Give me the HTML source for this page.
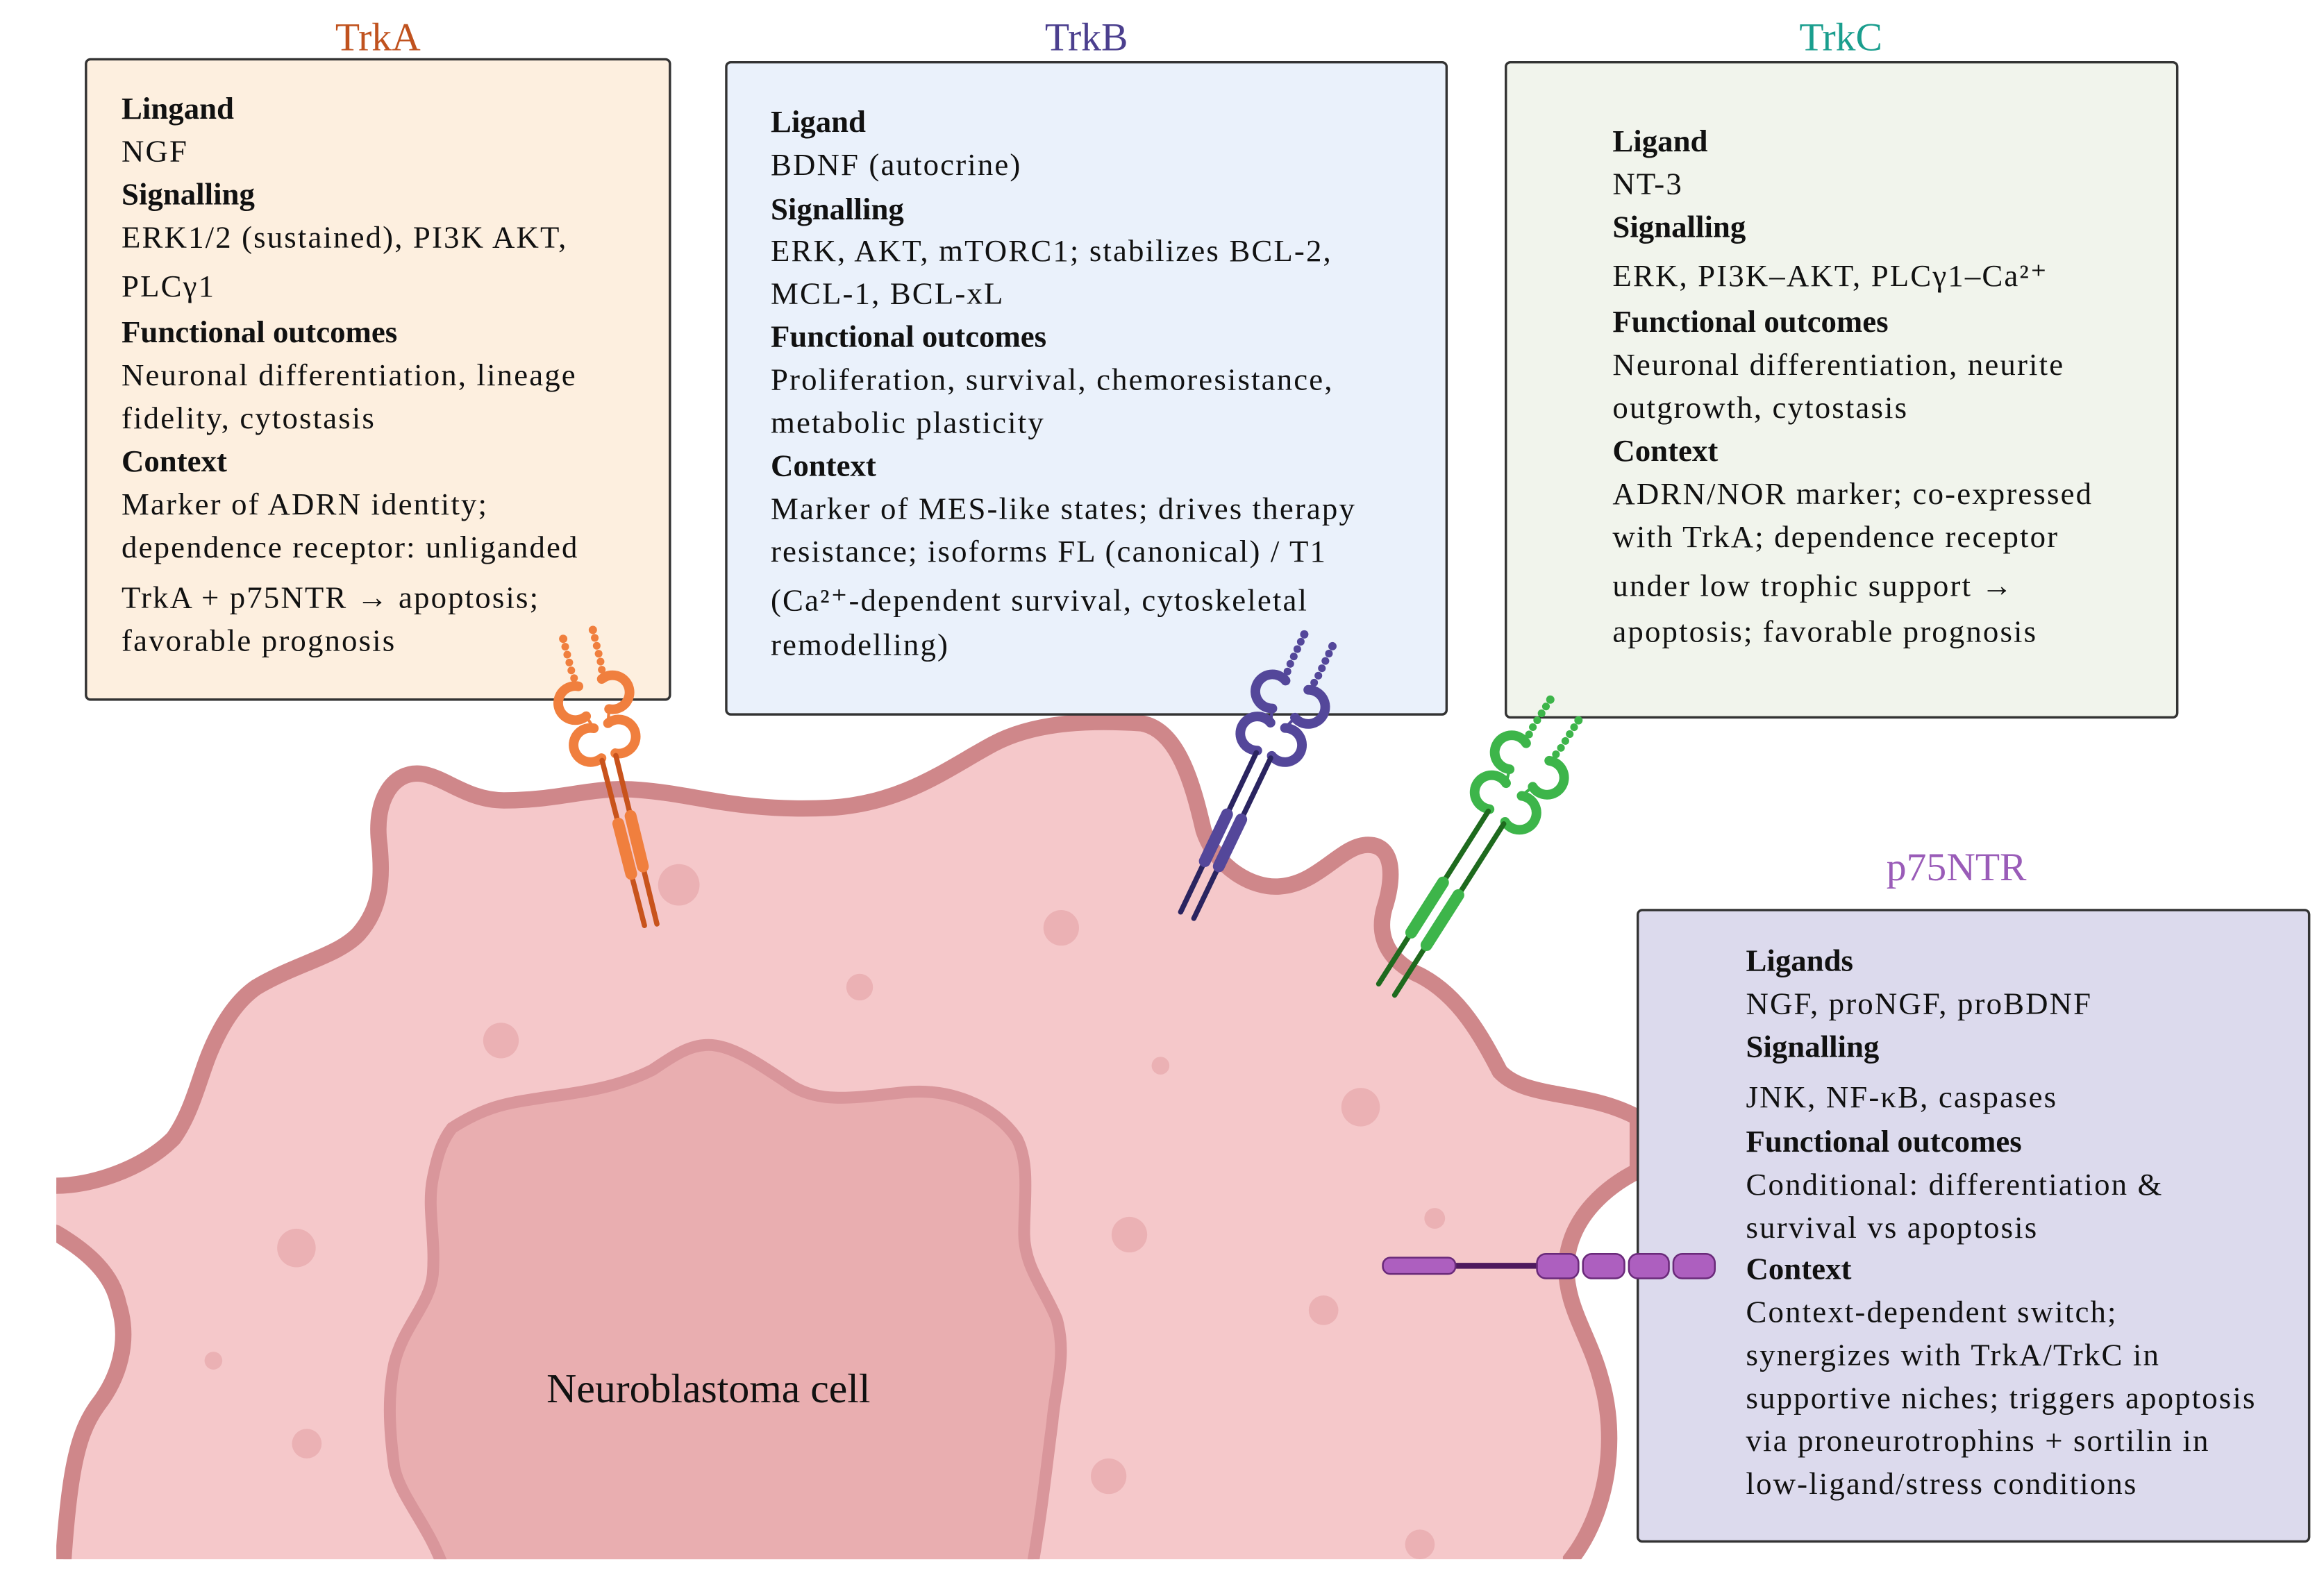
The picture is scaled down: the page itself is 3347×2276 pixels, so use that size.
<!DOCTYPE html>
<html><head><meta charset="utf-8">
<style>
html,body{margin:0;padding:0;background:#fff;}
svg{display:block;}
.r{letter-spacing:1px;}
</style></head>
<body>
<svg width="3347" height="2276" viewBox="0 0 1568 1066" preserveAspectRatio="none" xmlns="http://www.w3.org/2000/svg" font-family="'Liberation Serif', 'Times New Roman', serif">
<defs>
  <clipPath id="cc"><rect x="38" y="0" width="1530" height="1052"/></clipPath>
  <g id="top">
    <circle cx="0" cy="0" r="2.8" fill="currentColor"/>
    <circle cx="0" cy="5.5" r="2.6" fill="currentColor"/>
    <circle cx="0" cy="11" r="2.6" fill="currentColor"/>
    <circle cx="0" cy="16.5" r="2.6" fill="currentColor"/>
    <circle cx="0" cy="22" r="2.6" fill="currentColor"/>
    <circle cx="0.5" cy="27.5" r="2.6" fill="currentColor"/>
    <path d="M2,33.6 A11.5,11.5 0 1 0 2,54.4" fill="none" stroke="currentColor" stroke-width="6.5" stroke-linecap="round"/>
    <line x1="2" y1="54.4" x2="5" y2="63.6" stroke="currentColor" stroke-width="2"/>
    <path d="M5,63.6 A11.5,11.5 0 1 0 5,84.4" fill="none" stroke="currentColor" stroke-width="6.5" stroke-linecap="round"/>
  </g>
</defs>

<g clip-path="url(#cc)">
<path d="M20,800 L38,800 C60,800 95,790 117,768 C130,750 135,725 142,709 C150,690 160,675 173,666 C200,650 228,645 242,630 C258,612 258,590 256,570 C252,540 265,520 284,522 C300,524 315,540 340,540 C380,540 400,530 432,533 C470,536 500,548 560,545 C610,542 640,518 670,502 C700,486 740,486 770,488 C795,492 805,530 812,560 C820,585 845,600 864,598 C890,596 905,570 923,570 C942,570 940,595 934,613 C928,635 940,650 958,658 C985,672 1000,700 1012,723 C1030,742 1070,735 1105,754 L1105,790 C1085,800 1060,820 1057,851 C1055,880 1072,900 1080,930 C1092,970 1085,1020 1060,1052 L1060,1100 L40,1100 C45,1000 50,970 66,948 C80,930 88,905 80,880 C76,860 60,845 38,832 L20,826 Z" fill="#f5c8ca" stroke="#cf878a" stroke-width="11"/>
<path d="M305,761 C330,745 345,744 370,740 C400,736 420,732 440,722 C455,712 465,705 478,705 C495,705 515,720 535,733 C555,745 580,740 610,737 C640,734 670,745 686,768 C695,785 691,810 691,832 C691,855 705,870 713,890 C720,915 712,935 710,960 C706,990 703,1020 696,1060 L300,1060 C290,1030 270,1010 266,990 C262,960 262,940 266,920 C272,895 290,880 292,860 C294,835 288,815 292,795 C295,780 298,770 305,761 Z" fill="#e9aeb0" stroke="#d9969b" stroke-width="8"/>
<g fill="#ebb1b4">
<circle cx="458" cy="597" r="14"/><circle cx="716" cy="626" r="12"/><circle cx="580" cy="666" r="9"/>
<circle cx="338" cy="702" r="12"/><circle cx="783" cy="719" r="6"/><circle cx="918" cy="747" r="13"/>
<circle cx="762" cy="833" r="12"/><circle cx="968" cy="822" r="7"/><circle cx="200" cy="842" r="13"/>
<circle cx="893" cy="884" r="10"/><circle cx="144" cy="918" r="6"/><circle cx="207" cy="974" r="10"/>
<circle cx="748" cy="996" r="12"/><circle cx="958" cy="1042" r="10"/>
</g>
</g>
<text x="478" y="946" text-anchor="middle" font-size="28" fill="#111" font-family="'Liberation Serif', serif">Neuroblastoma cell</text>

<rect x="58" y="40" width="394" height="432" rx="3" fill="#fdefdf" stroke="#333" stroke-width="1.6"/>
<rect x="490" y="42" width="486" height="440" rx="3" fill="#eaf1fb" stroke="#333" stroke-width="1.6"/>
<rect x="1016" y="42" width="453" height="442" rx="3" fill="#f1f4ec" stroke="#333" stroke-width="1.6"/>
<rect x="1105" y="614" width="453" height="426" rx="3" fill="#dcdaed" stroke="#333" stroke-width="1.6"/>

<g font-size="27" text-anchor="middle" font-family="'Liberation Serif', serif">
<text x="255" y="34" fill="#c0521e">TrkA</text>
<text x="733" y="34" fill="#4b3f8e">TrkB</text>
<text x="1242" y="34" fill="#1a9e8e">TrkC</text>
<text x="1320" y="594" fill="#9a5cb8">p75NTR</text>
</g>

<g font-size="21" fill="#111" font-family="'Liberation Serif', serif">
<text x="82" y="80" font-weight="bold">Lingand</text>
<text x="82" y="109" class="r">NGF</text>
<text x="82" y="138" font-weight="bold">Signalling</text>
<text x="82" y="167" class="r">ERK1/2 (sustained), PI3K  AKT,</text>
<text x="82" y="200" class="r">PLCγ1</text>
<text x="82" y="231" font-weight="bold">Functional outcomes</text>
<text x="82" y="260" class="r">Neuronal differentiation, lineage</text>
<text x="82" y="289" class="r">fidelity, cytostasis</text>
<text x="82" y="318" font-weight="bold">Context</text>
<text x="82" y="347" class="r">Marker of ADRN identity;</text>
<text x="82" y="376" class="r">dependence receptor: unliganded</text>
<text x="82" y="410" class="r">TrkA + p75NTR → apoptosis;</text>
<text x="82" y="439" class="r">favorable prognosis</text>

<text x="520" y="89" font-weight="bold">Ligand</text>
<text x="520" y="118" class="r">BDNF (autocrine)</text>
<text x="520" y="148" font-weight="bold">Signalling</text>
<text x="520" y="176" class="r">ERK, AKT, mTORC1; stabilizes BCL-2,</text>
<text x="520" y="205" class="r">MCL-1, BCL-xL</text>
<text x="520" y="234" font-weight="bold">Functional outcomes</text>
<text x="520" y="263" class="r">Proliferation, survival, chemoresistance,</text>
<text x="520" y="292" class="r">metabolic plasticity</text>
<text x="520" y="321" font-weight="bold">Context</text>
<text x="520" y="350" class="r">Marker of MES-like states; drives therapy</text>
<text x="520" y="379" class="r">resistance; isoforms FL (canonical) / T1</text>
<text x="520" y="412" class="r">(Ca²⁺-dependent survival, cytoskeletal</text>
<text x="520" y="442" class="r">remodelling)</text>

<text x="1088" y="102" font-weight="bold">Ligand</text>
<text x="1088" y="131" class="r">NT-3</text>
<text x="1088" y="160" font-weight="bold">Signalling</text>
<text x="1088" y="193" class="r">ERK, PI3K–AKT, PLCγ1–Ca²⁺</text>
<text x="1088" y="224" font-weight="bold">Functional outcomes</text>
<text x="1088" y="253" class="r">Neuronal differentiation, neurite</text>
<text x="1088" y="282" class="r">outgrowth, cytostasis</text>
<text x="1088" y="311" font-weight="bold">Context</text>
<text x="1088" y="340" class="r">ADRN/NOR marker; co-expressed</text>
<text x="1088" y="369" class="r">with TrkA; dependence receptor</text>
<text x="1088" y="402" class="r">under low trophic support →</text>
<text x="1088" y="433" class="r">apoptosis; favorable prognosis</text>

<text x="1178" y="655" font-weight="bold">Ligands</text>
<text x="1178" y="684" class="r">NGF, proNGF, proBDNF</text>
<text x="1178" y="713" font-weight="bold">Signalling</text>
<text x="1178" y="747" class="r">JNK, NF-κB, caspases</text>
<text x="1178" y="777" font-weight="bold">Functional outcomes</text>
<text x="1178" y="806" class="r">Conditional: differentiation &amp;</text>
<text x="1178" y="835" class="r">survival vs apoptosis</text>
<text x="1178" y="863" font-weight="bold">Context</text>
<text x="1178" y="892" class="r">Context-dependent switch;</text>
<text x="1178" y="921" class="r">synergizes with TrkA/TrkC in</text>
<text x="1178" y="950" class="r">supportive niches; triggers apoptosis</text>
<text x="1178" y="979" class="r">via proneurotrophins + sortilin in</text>
<text x="1178" y="1008" class="r">low-ligand/stress conditions</text>
</g>

<g transform="translate(380,431) rotate(-14.4)">
  <use href="#top" style="color:#f07f3e"/>
  <line x1="5" y1="86" x2="5" y2="201" stroke="#c8531c" stroke-width="3.5" stroke-linecap="round"/>
  <line x1="5" y1="130" x2="5" y2="165" stroke="#f07f3e" stroke-width="8" stroke-linecap="round"/>
</g>
<g transform="translate(400,425) rotate(-13.7) scale(-1,1)">
  <use href="#top" style="color:#f07f3e"/>
  <line x1="5" y1="86" x2="5" y2="203" stroke="#c8531c" stroke-width="3.5" stroke-linecap="round"/>
  <line x1="5" y1="128" x2="5" y2="163" stroke="#f07f3e" stroke-width="8" stroke-linecap="round"/>
</g>
<g transform="translate(880,428) rotate(25.4)">
  <use href="#top" style="color:#54479a"/>
  <line x1="5" y1="86" x2="5" y2="205" stroke="#2a2460" stroke-width="3.5" stroke-linecap="round"/>
  <line x1="5" y1="132" x2="5" y2="167" stroke="#54479a" stroke-width="8" stroke-linecap="round"/>
</g>
<g transform="translate(899,436) rotate(25.6) scale(-1,1)">
  <use href="#top" style="color:#54479a"/>
  <line x1="5" y1="86" x2="5" y2="206" stroke="#2a2460" stroke-width="3.5" stroke-linecap="round"/>
  <line x1="5" y1="132" x2="5" y2="167" stroke="#54479a" stroke-width="8" stroke-linecap="round"/>
</g>
<g transform="translate(1046,472) rotate(32.4)">
  <use href="#top" style="color:#3db54a"/>
  <line x1="5" y1="86" x2="5" y2="224" stroke="#1e6a1e" stroke-width="3.5" stroke-linecap="round"/>
  <line x1="5" y1="143" x2="5" y2="183" stroke="#3db54a" stroke-width="8" stroke-linecap="round"/>
</g>
<g transform="translate(1065,486) rotate(32.5) scale(-1,1)">
  <use href="#top" style="color:#3db54a"/>
  <line x1="5" y1="86" x2="5" y2="223" stroke="#1e6a1e" stroke-width="3.5" stroke-linecap="round"/>
  <line x1="5" y1="143" x2="5" y2="183" stroke="#3db54a" stroke-width="8" stroke-linecap="round"/>
</g>

<line x1="980" y1="854" x2="1040" y2="854" stroke="#4e1a5e" stroke-width="4"/>
<g fill="#ad5fbf" stroke="#6a2a7a" stroke-width="1.2">
<rect x="933" y="848.5" width="49" height="11" rx="5"/>
<rect x="1037" y="846" width="28" height="16.5" rx="6"/>
<rect x="1068" y="846" width="28" height="16.5" rx="6"/>
<rect x="1099" y="846" width="27" height="16.5" rx="6"/>
<rect x="1129" y="846" width="28" height="16.5" rx="6"/>
</g>
</svg>
</body></html>
